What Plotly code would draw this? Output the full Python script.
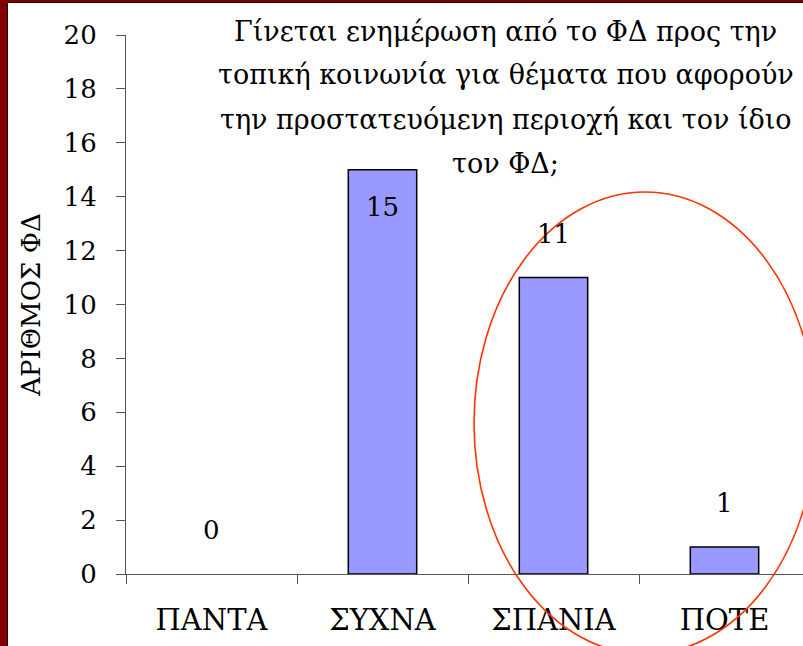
import plotly.graph_objects as go

categories = ["ΠΑΝΤΑ", "ΣΥΧΝΑ", "ΣΠΑΝΙΑ", "ΠΟΤΕ"]
values = [0, 15, 11, 1]
y_ticks = [0, 2, 4, 6, 8, 10, 12, 14, 16, 18, 20]
title_lines = [
    "Γίνεται ενημέρωση από το ΦΔ προς την",
    "τοπική κοινωνία για θέματα που αφορούν",
    "την προστατευόμενη περιοχή και τον ίδιο",
    "τον ΦΔ;",
]
y_title = "ΑΡΙΘΜΟΣ ΦΔ"

W, H = 803, 646
L, R, T, B = 126, 0, 35, 72
PW, PH = W - L - R, H - T - B

def px(x):
    return (x - L) / PW

def py(y):
    return (H - B - y) / PH

SERIF = "'DejaVu Serif', 'Liberation Serif', serif"
TITLE_FONT = "'DejaVu Serif', 'Liberation Serif', serif"

fig = go.Figure()
fig.add_trace(go.Bar(
    x=categories, y=values, width=0.4,
    marker=dict(color="#9999FF",
                line=dict(color="black", width=[1.5 if v > 0 else 0 for v in values])),
    hoverinfo="skip",
))

vmax = max(values)
for c, v in zip(categories, values):
    fig.add_annotation(
        x=c, y=v, xref="x", yref="y", text=str(v), showarrow=False,
        yshift=(-37 if v == vmax else 44), yanchor="middle",
        font=dict(family=SERIF, size=26, color="black"),
    )

line_y = [31, 75, 119, 163]
for t, yy in zip(title_lines, line_y):
    fig.add_annotation(
        x=px(506), y=py(yy), xref="paper", yref="paper", text=t,
        showarrow=False, xanchor="center", yanchor="middle",
        font=dict(family=TITLE_FONT, size=27, color="black"),
    )

# red ellipse highlight
fig.add_shape(type="circle", xref="paper", yref="paper",
              x0=px(474), x1=px(816), y0=py(654), y1=py(192),
              line=dict(color="#FF3300", width=1.6), layer="above")

# slide frame borders
fig.add_shape(type="rect", xref="paper", yref="paper",
              x0=px(0), x1=px(7), y0=py(H), y1=py(0),
              line=dict(width=0), fillcolor="#7F0000", layer="above")
fig.add_shape(type="rect", xref="paper", yref="paper",
              x0=px(0), x1=px(W), y0=py(2), y1=py(0),
              line=dict(width=0), fillcolor="#7F0000", layer="above")
fig.add_shape(type="line", xref="paper", yref="paper",
              x0=px(7.5), x1=px(7.5), y0=py(H), y1=py(2.5),
              line=dict(color="#300000", width=1), layer="above")
fig.add_shape(type="line", xref="paper", yref="paper",
              x0=px(7.5), x1=px(W), y0=py(2.5), y1=py(2.5),
              line=dict(color="#300000", width=1), layer="above")

fig.update_layout(
    width=W, height=H,
    margin=dict(l=L, r=R, t=T, b=B, pad=0),
    paper_bgcolor="white", plot_bgcolor="white",
    showlegend=False,
)
fig.update_xaxes(
    type="category", range=[-0.5, -0.5 + PW / 171.0],
    tickson="boundaries", ticks="outside", ticklen=9, tickcolor="#555555",
    showline=True, linecolor="#555555", linewidth=1.2,
    showgrid=False, zeroline=False,
    tickfont=dict(family=SERIF, size=29, color="black"),
    ticklabelstandoff=20,
)
fig.update_yaxes(
    range=[0, 20], tickvals=y_ticks, ticks="outside", ticklen=9,
    tickcolor="#555555", showline=True, linecolor="#555555", linewidth=1.2,
    showgrid=False, zeroline=False,
    tickfont=dict(family=SERIF, size=26, color="black"),
    ticklabelstandoff=14,
    title=dict(text=y_title, font=dict(family=SERIF, size=26, color="black"),
               standoff=15),
)

fig.write_html(
    "out.html",
    config={"displayModeBar": False},
    post_script="document.body.style.margin='0';document.body.style.padding='0';",
)
